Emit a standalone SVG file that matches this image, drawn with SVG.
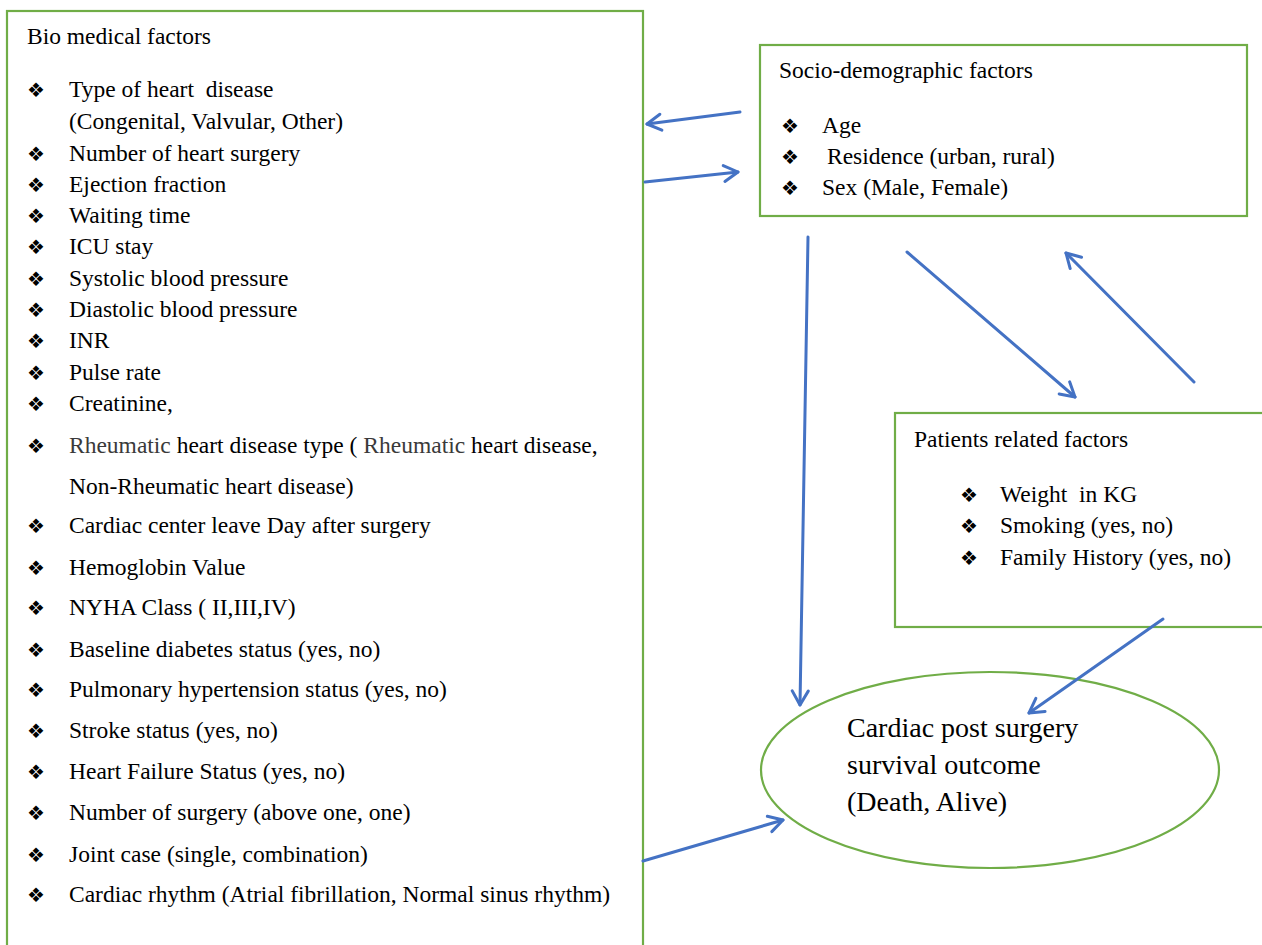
<svg xmlns="http://www.w3.org/2000/svg" width="1262" height="945" viewBox="0 0 1262 945">
<style>
.box{fill:#fff;stroke:#70ad47;stroke-width:2.2}
.t{font-family:"Liberation Serif","Times New Roman",serif;font-size:23.5px;fill:#000}
.big{font-family:"Liberation Serif","Times New Roman",serif;font-size:28px;fill:#000}
.b{font-family:"DejaVu Sans",sans-serif;font-size:20px;fill:#000}
.g{fill:#3a3a3a}
.c{fill:none;stroke:#4472c4;stroke-width:3;stroke-linecap:round}
</style>
<defs>
<marker id="ah" viewBox="0 0 20 20" refX="17" refY="10" markerWidth="20" markerHeight="20" markerUnits="userSpaceOnUse" orient="auto">
<path d="M3,2 L17,10 L3,18" fill="none" stroke="#4472c4" stroke-width="3" stroke-linecap="round" stroke-linejoin="round"/>
</marker>
</defs>
<rect width="1262" height="945" fill="#fff"/>

<g id="bio">
<rect class="box" x="7" y="11" width="636" height="960"/>
<text class="t" x="27" y="44">Bio medical factors</text>
<g class="b">
<text x="27" y="97">❖</text>
<text x="27" y="161">❖</text>
<text x="27" y="192">❖</text>
<text x="27" y="223">❖</text>
<text x="27" y="254">❖</text>
<text x="27" y="286">❖</text>
<text x="27" y="317">❖</text>
<text x="27" y="348">❖</text>
<text x="27" y="380">❖</text>
<text x="27" y="411">❖</text>
<text x="27" y="453">❖</text>
<text x="27" y="533">❖</text>
<text x="27" y="575">❖</text>
<text x="27" y="615">❖</text>
<text x="27" y="657">❖</text>
<text x="27" y="697">❖</text>
<text x="27" y="738">❖</text>
<text x="27" y="779">❖</text>
<text x="27" y="820">❖</text>
<text x="27" y="862">❖</text>
<text x="27" y="902">❖</text>
</g>
<g class="t">
<text x="69" y="97" xml:space="preserve">Type of heart  disease</text>
<text x="69" y="129">(Congenital, Valvular, Other)</text>
<text x="69" y="161">Number of heart surgery</text>
<text x="69" y="192">Ejection fraction</text>
<text x="69" y="223">Waiting time</text>
<text x="69" y="254">ICU stay</text>
<text x="69" y="286">Systolic blood pressure</text>
<text x="69" y="317">Diastolic blood pressure</text>
<text x="69" y="348">INR</text>
<text x="69" y="380">Pulse rate</text>
<text x="69" y="411">Creatinine,</text>
<text x="69" y="453"><tspan class="g">Rheumatic</tspan> heart disease type ( <tspan class="g">Rheumatic</tspan> heart disease,</text>
<text x="69" y="494">Non-Rheumatic heart disease)</text>
<text x="69" y="533">Cardiac center leave Day after surgery</text>
<text x="69" y="575">Hemoglobin Value</text>
<text x="69" y="615">NYHA Class ( II,III,IV)</text>
<text x="69" y="657">Baseline diabetes status (yes, no)</text>
<text x="69" y="697">Pulmonary hypertension status (yes, no)</text>
<text x="69" y="738">Stroke status (yes, no)</text>
<text x="69" y="779">Heart Failure Status (yes, no)</text>
<text x="69" y="820">Number of surgery (above one, one)</text>
<text x="69" y="862">Joint case (single, combination)</text>
<text x="69" y="902">Cardiac rhythm (Atrial fibrillation, Normal sinus rhythm)</text>
</g>
</g>

<g id="socio">
<rect class="box" x="760" y="45" width="487" height="171"/>
<text class="t" x="779" y="78">Socio-demographic factors</text>
<g class="b">
<text x="781" y="133">❖</text>
<text x="781" y="164">❖</text>
<text x="781" y="195">❖</text>
</g>
<g class="t">
<text x="822" y="133">Age</text>
<text x="827" y="164">Residence (urban, rural)</text>
<text x="822" y="195">Sex (Male, Female)</text>
</g>
</g>

<g id="patients">
<rect class="box" x="895" y="413" width="400" height="214"/>
<text class="t" x="914" y="447">Patients related factors</text>
<g class="b">
<text x="960" y="502">❖</text>
<text x="960" y="533">❖</text>
<text x="960" y="565">❖</text>
</g>
<g class="t">
<text x="1000" y="502" xml:space="preserve">Weight  in KG</text>
<text x="1000" y="533">Smoking (yes, no)</text>
<text x="1000" y="565">Family History (yes, no)</text>
</g>
</g>

<g id="outcome">
<ellipse cx="990" cy="770" rx="229" ry="98" fill="none" stroke="#70ad47" stroke-width="2.2"/>
<g class="big">
<text x="847" y="737">Cardiac post surgery</text>
<text x="847" y="774">survival outcome</text>
<text x="847" y="811">(Death, Alive)</text>
</g>
</g>

<g id="connectors">
<line class="c" x1="740" y1="112" x2="647" y2="124" marker-end="url(#ah)"/>
<line class="c" x1="645" y1="182" x2="738" y2="172" marker-end="url(#ah)"/>
<line class="c" x1="808" y1="237" x2="800" y2="705" marker-end="url(#ah)"/>
<line class="c" x1="907" y1="252" x2="1075" y2="397" marker-end="url(#ah)"/>
<line class="c" x1="1194" y1="382" x2="1066" y2="253" marker-end="url(#ah)"/>
<line class="c" x1="1163" y1="619" x2="1029" y2="713" marker-end="url(#ah)"/>
<line class="c" x1="643" y1="861" x2="783" y2="820" marker-end="url(#ah)"/>
</g>
</svg>
